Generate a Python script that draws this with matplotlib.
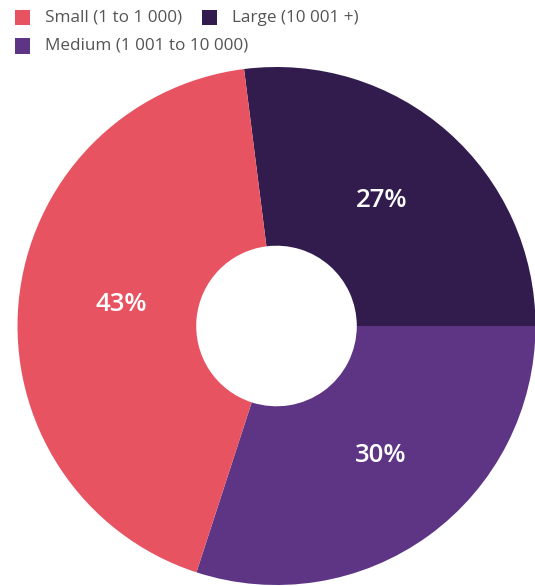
import matplotlib.pyplot as plt
from matplotlib.patches import Rectangle

plt.rcParams['font.family'] = ['Open Sans', 'DejaVu Sans']

categories = ["Large (10 001 +)", "Medium (1 001 to 10 000)", "Small (1 to 1 000)"]
shares = [27, 30, 43]
colors = ["#321C4E", "#5E3585", "#E85362"]

W, H = 535, 586
fig = plt.figure(figsize=(W / 100, H / 100), dpi=100)

cx, cy, r = 276.5, 326, 259
ax = fig.add_axes([(cx - r) / W, (H - cy - r) / H, 2 * r / W, 2 * r / H])

start = shares[0] / 100 * 360
wedges, texts, autotexts = ax.pie(
    shares, colors=colors, startangle=start, counterclock=False, radius=1,
    autopct=lambda p: f"{p:.0f}%", pctdistance=0.64,
    wedgeprops=dict(width=0.69, linewidth=0),
    textprops=dict(color="white", fontsize=18.5, fontweight="semibold"),
)

# percentage labels sit a little off the wedge mid-angle
label_xy = [(0.405, 0.484), (0.403, -0.501), (-0.600, 0.082)]
for t, xy in zip(autotexts, label_xy):
    t.set_position(xy)

ax.set_xlim(-1, 1)
ax.set_ylim(-1, 1)
ax.set_aspect('equal')
ax.axis('off')

# flowing legend: Small, Large on the first row, Medium on the second
legend_items = [(2, 15, 17.5), (0, 202, 17.5), (1, 15, 46)]
for idx, x, y in legend_items:
    sq = 15
    fig.patches.append(Rectangle((x / W, (H - y - sq / 2) / H), sq / W, sq / H,
                                 transform=fig.transFigure, facecolor=colors[idx],
                                 edgecolor='none'))
    fig.text((x + 30) / W, (H - y) / H, categories[idx], fontsize=12.3,
             color="#555555", va='center', ha='left')

fig.savefig("out.png", dpi=100)
